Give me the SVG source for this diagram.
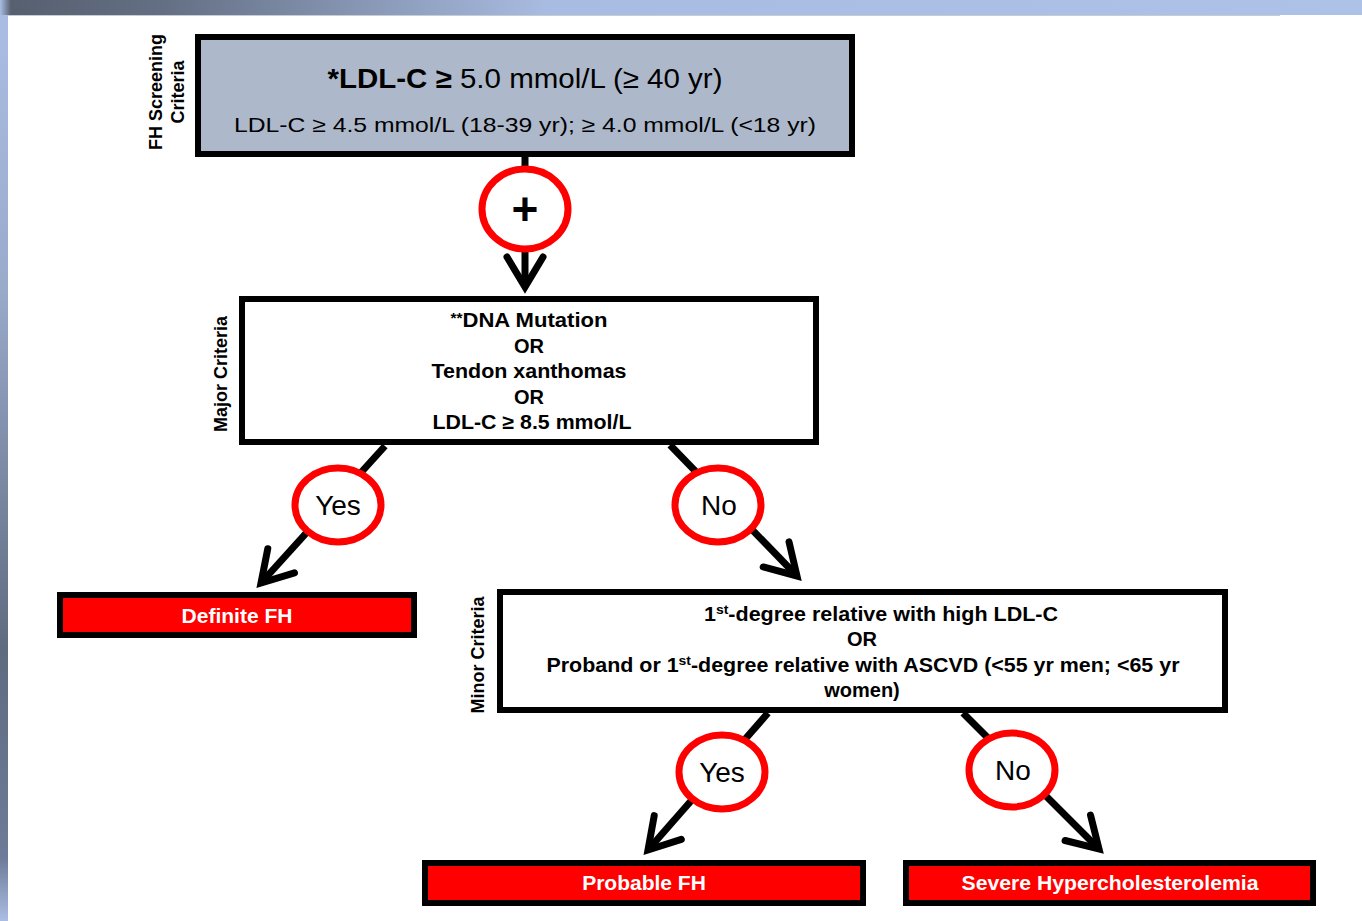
<svg xmlns="http://www.w3.org/2000/svg" width="1362" height="921" viewBox="0 0 1362 921">
<defs>
<linearGradient id="topbar" x1="0" y1="0" x2="1" y2="0">
<stop offset="0" stop-color="#aabde3"/>
<stop offset="0.008" stop-color="#56606f"/>
<stop offset="0.12" stop-color="#646f84"/>
<stop offset="0.4" stop-color="#a8bbe0"/>
<stop offset="1" stop-color="#aec1e7"/>
</linearGradient>
<linearGradient id="leftbar" x1="0" y1="0" x2="0" y2="1">
<stop offset="0" stop-color="#aabde3"/>
<stop offset="0.3" stop-color="#9aaacb"/>
<stop offset="0.7" stop-color="#5f6b80"/>
<stop offset="0.93" stop-color="#6d7b98"/>
<stop offset="1" stop-color="#aabde3"/>
</linearGradient>
<marker id="chev" markerUnits="userSpaceOnUse" markerWidth="50" markerHeight="50" viewBox="-40 -25 50 50" refX="0" refY="0" orient="auto" overflow="visible">
<path d="M-30,-18 L0,0 L-30,18" fill="none" stroke="#000" stroke-width="7" stroke-linecap="round" stroke-linejoin="miter"/>
</marker>
<style>
.box{fill:#fff;stroke:#000;stroke-width:6}
.grey{fill:#adb9cb;stroke:#000;stroke-width:6}
.red{fill:#ff0000;stroke:#000;stroke-width:6}
.conn{stroke:#000;stroke-width:7;fill:none}
.ring{fill:#fff;stroke:#ff0000;stroke-width:7}
.t{font-family:"Liberation Sans",Arial,sans-serif;fill:#000;text-anchor:middle}
.b{font-weight:bold;font-size:20px}
.w{fill:#fff;font-weight:bold;font-size:21px}
.lab{font-family:"Liberation Sans",Arial,sans-serif;font-weight:bold;font-size:18px;fill:#000;text-anchor:middle}
.circ{font-family:"Liberation Sans",Arial,sans-serif;font-size:28px;fill:#000;text-anchor:middle}
</style>
</defs>
<rect x="0" y="0" width="1362" height="921" fill="#fff"/>
<rect x="0" y="0" width="1362" height="15" fill="url(#topbar)"/>
<line x1="8" y1="15.5" x2="1280" y2="15.5" stroke="#c8ccd4" stroke-width="1"/>
<rect x="0" y="15" width="8" height="906" fill="url(#leftbar)"/>

<g id="connectors">
<line class="conn" x1="525" y1="157" x2="525" y2="170"/>
<line class="conn" x1="525" y1="248" x2="525" y2="287" marker-end="url(#chev)"/>
<line class="conn" x1="385" y1="446" x2="261" y2="583" marker-end="url(#chev)"/>
<line class="conn" x1="670" y1="445" x2="797" y2="576" marker-end="url(#chev)"/>
<line class="conn" x1="768" y1="713" x2="648" y2="850" marker-end="url(#chev)"/>
<line class="conn" x1="963" y1="713" x2="1099" y2="849" marker-end="url(#chev)"/>
</g>

<g id="screening">
<rect class="grey" x="198" y="37" width="654" height="117"/>
<text class="t" x="525" y="88" font-size="28" textLength="395" lengthAdjust="spacingAndGlyphs"><tspan font-weight="bold">*LDL-C ≥</tspan> 5.0 mmol/L (≥ 40 yr)</text>
<text class="t" x="525" y="132" font-size="21" textLength="582" lengthAdjust="spacingAndGlyphs">LDL-C ≥ 4.5 mmol/L (18-39 yr); ≥ 4.0 mmol/L (&lt;18 yr)</text>
</g>
<g id="label-screening">
<text class="lab" transform="translate(162,92) rotate(-90)">FH Screening</text>
<text class="lab" transform="translate(184,92) rotate(-90)">Criteria</text>
</g>

<g id="plus">
<ellipse class="ring" cx="525" cy="209" rx="43" ry="40"/>
<text class="t" x="525" y="225" font-size="46" font-weight="bold">+</text>
</g>

<g id="major">
<rect class="box" x="242" y="299" width="574" height="143"/>
<text class="t b" x="529" y="327" textLength="157" lengthAdjust="spacingAndGlyphs"><tspan font-size="14" dy="-4">**</tspan><tspan dy="4">DNA Mutation</tspan></text>
<text class="t b" x="529" y="353">OR</text>
<text class="t b" x="529" y="378" textLength="195" lengthAdjust="spacingAndGlyphs">Tendon xanthomas</text>
<text class="t b" x="529" y="404">OR</text>
<text class="t b" x="532" y="429" textLength="199" lengthAdjust="spacingAndGlyphs">LDL-C ≥ 8.5 mmol/L</text>
</g>
<g id="label-major">
<text class="lab" transform="translate(227,374) rotate(-90)">Major Criteria</text>
</g>

<g id="yes1">
<ellipse class="ring" cx="338" cy="505" rx="43" ry="37"/>
<text class="circ" x="338" y="515">Yes</text>
</g>
<g id="no1">
<ellipse class="ring" cx="718" cy="505" rx="43" ry="37"/>
<text class="circ" x="719" y="515">No</text>
</g>

<g id="definite">
<rect class="red" x="60" y="595" width="354" height="40"/>
<text class="t w" x="237" y="623">Definite FH</text>
</g>

<g id="minor">
<rect class="box" x="500" y="592" width="725" height="118"/>
<text class="t b" x="881" y="621" textLength="354" lengthAdjust="spacingAndGlyphs">1<tspan font-size="13" dy="-7">st</tspan><tspan dy="7">-degree relative with high LDL-C</tspan></text>
<text class="t b" x="862" y="646">OR</text>
<text class="t b" x="863" y="672" textLength="633" lengthAdjust="spacingAndGlyphs">Proband or 1<tspan font-size="13" dy="-7">st</tspan><tspan dy="7">-degree relative with ASCVD (&lt;55 yr men; &lt;65 yr</tspan></text>
<text class="t b" x="862" y="697">women)</text>
</g>
<g id="label-minor">
<text class="lab" transform="translate(484,655) rotate(-90)">Minor Criteria</text>
</g>

<g id="yes2">
<ellipse class="ring" cx="722" cy="772" rx="43" ry="37"/>
<text class="circ" x="722" y="782">Yes</text>
</g>
<g id="no2">
<ellipse class="ring" cx="1012" cy="770" rx="43" ry="37"/>
<text class="circ" x="1013" y="780">No</text>
</g>

<g id="probable">
<rect class="red" x="425" y="863" width="438" height="40"/>
<text class="t w" x="644" y="890">Probable FH</text>
</g>
<g id="severe">
<rect class="red" x="906" y="863" width="407" height="40"/>
<text class="t w" x="1110" y="890" textLength="297" lengthAdjust="spacingAndGlyphs">Severe Hypercholesterolemia</text>
</g>
</svg>
